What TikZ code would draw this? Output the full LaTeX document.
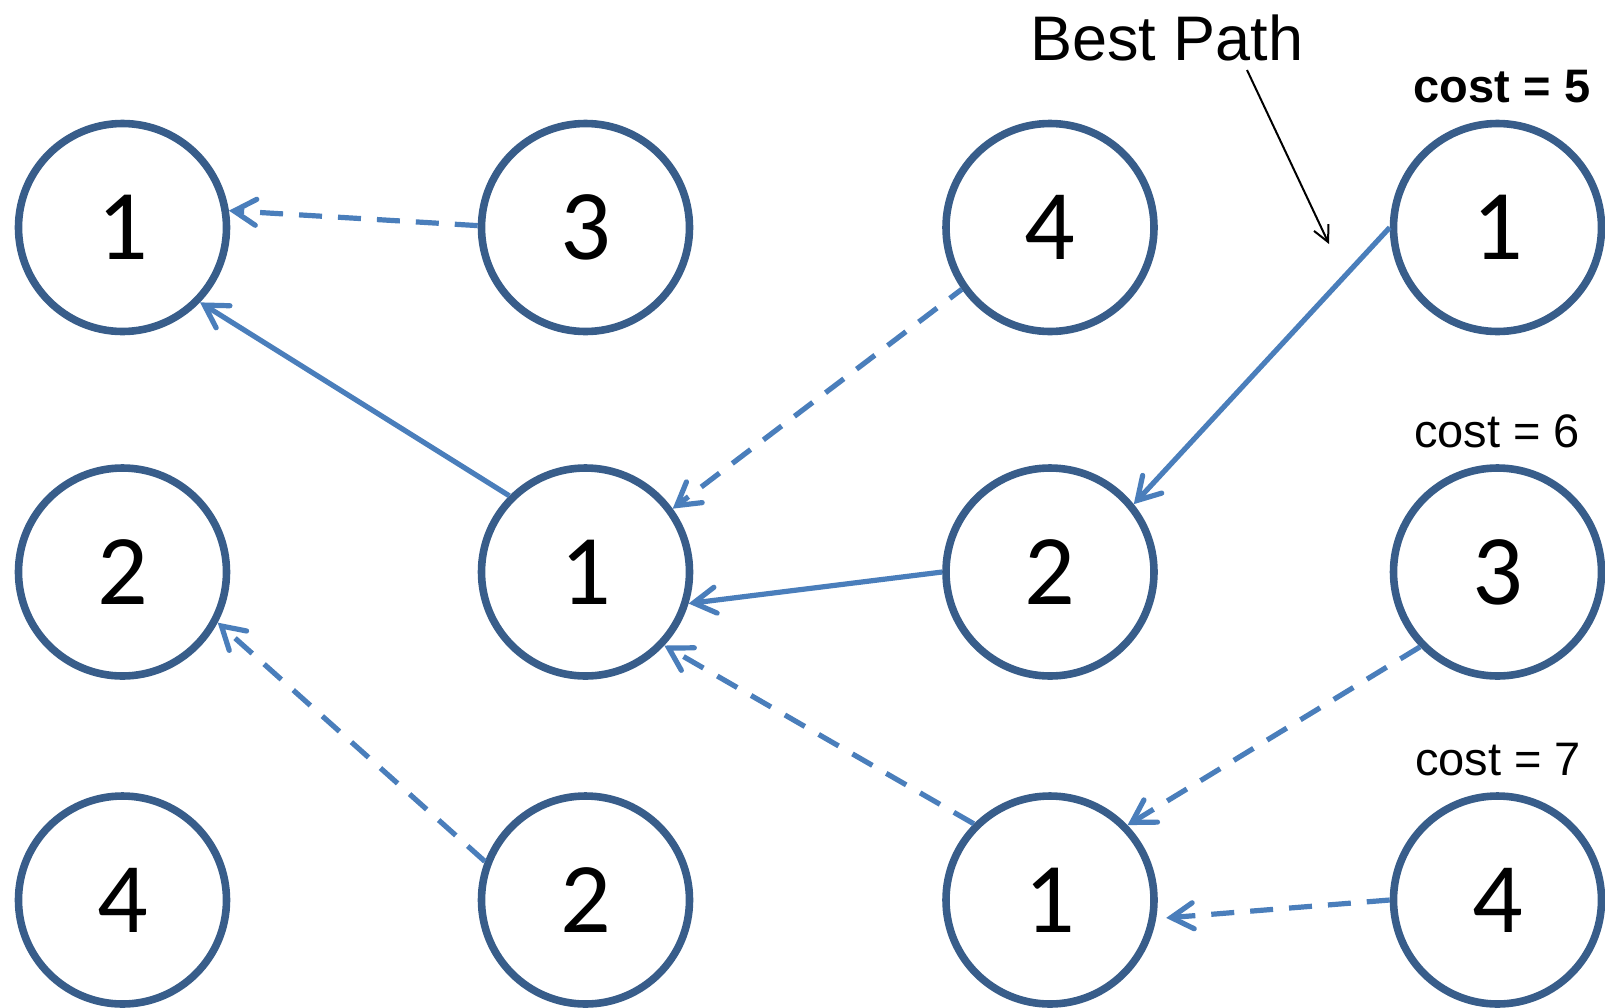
\documentclass[tikz,border=0pt]{standalone}
\usepackage{fontspec}
\setmainfont{Liberation Sans}
\newfontfamily\digitfont{Carlito}
\usepackage{xcolor}
\usetikzlibrary{arrows.meta, calc}

\definecolor{ringblue}{HTML}{385D8A}
\definecolor{edgeblue}{HTML}{4A7EBB}

\begin{document}
\begin{tikzpicture}[x=0.5pt, y=-0.5pt,
    state/.style={circle, draw=ringblue, line width=3.8pt, minimum size=104pt,
      inner sep=0pt, font=\digitfont\fontsize{50}{50}\selectfont},
    link/.style={draw=edgeblue, line width=2.6pt,
      -{Straight Barb[length=11pt, width=13pt, line cap=round]}},
    alt/.style={link, dash pattern=on 11.5pt off 8pt},
    costlbl/.style={anchor=base, font=\fontsize{23.5}{23.5}\selectfont}]
  \useasboundingbox (0,0) rectangle (1605,1007);
  % states, one column per step
  \node[state] (a1) at (122.5,227.5) {1};
  \node[state] (b1) at (585.5,227.5) {3};
  \node[state] (c1) at (1050,227.5) {4};
  \node[state] (d1) at (1497.5,227.5) {1};
  \node[state] (a2) at (122.5,572) {2};
  \node[state] (b2) at (585.5,572) {1};
  \node[state] (c2) at (1050,572) {2};
  \node[state] (d2) at (1497.5,572) {3};
  \node[state] (a3) at (122.5,900) {4};
  \node[state] (b3) at (585.5,900) {2};
  \node[state] (c3) at (1050,900) {1};
  \node[state] (d3) at (1497.5,900) {4};
  % back pointers
  \draw[alt]  (b1.179) -- (a1.9);
  \draw[link] (b2.135) -- (a1.-44);
  \draw[alt, dash phase=4pt] (c1.215) -- (b2.36);
  \draw[link] (d1.180) -- (c2.39);
  \draw[link] (c2.180) -- (b2.-17);
  \draw[alt]  (c3.135) -- (b2.-43);
  \draw[alt]  (d2.224) -- (c3.44);
  \draw[alt, shorten >=5pt] (d3.180) -- (c3.-10);
  \draw[alt]  (b3.159) -- (a2.-28);
  % labels
  \node[costlbl, font=\fontsize{23.5}{23.5}\selectfont\bfseries] (cost5) at (1502,102) {cost = 5};
  \node[costlbl] (cost6) at (1497,447) {cost = 6};
  \node[costlbl] (cost7) at (1498,775) {cost = 7};
  \node[anchor=base, font=\fontsize{31.5}{31.5}\selectfont] (best) at (1167,60) {Best Path};
  \coordinate (bptail) at (1247,70);
  \coordinate (bptip) at (1329,244);
  \draw[black, line width=1pt, -{Straight Barb[length=8pt, width=8pt]}] (bptail) -- (bptip);
\end{tikzpicture}
\end{document}
